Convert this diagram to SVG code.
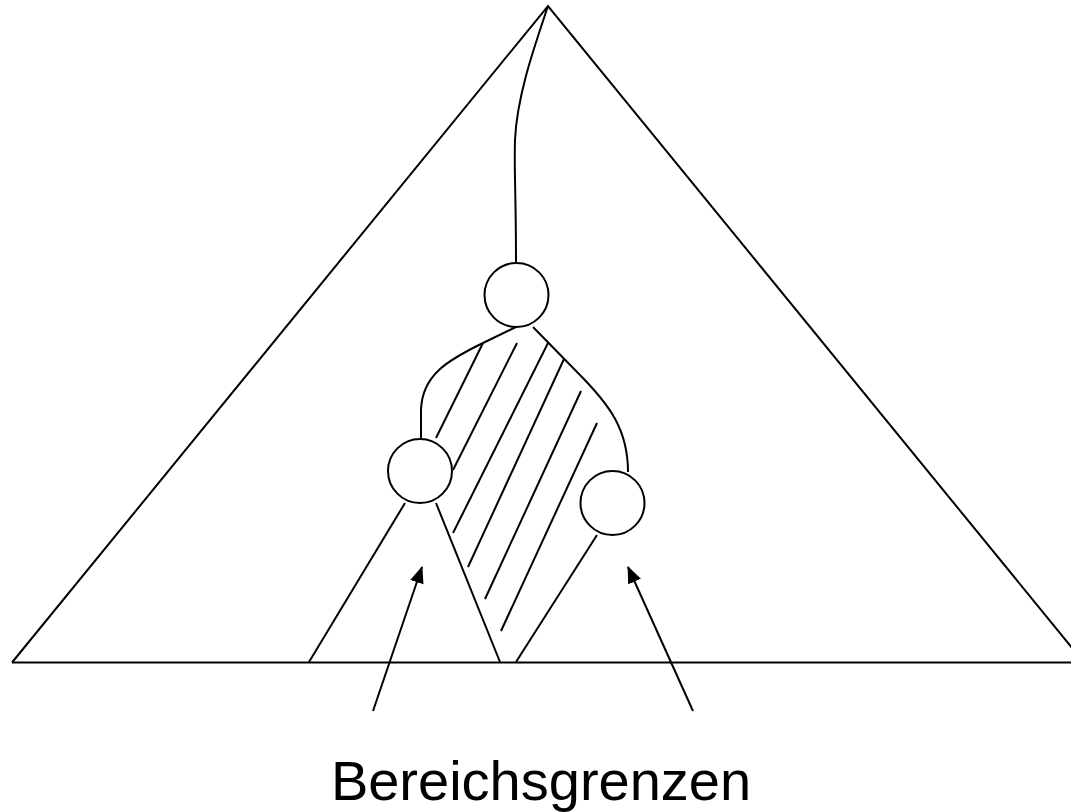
<svg xmlns="http://www.w3.org/2000/svg" width="1071" height="812" viewBox="0 0 1071 812">
<style>
.ln{fill:none;stroke:#000;stroke-width:2;stroke-linecap:butt;stroke-linejoin:miter}
.nd{fill:#fff;stroke:#000;stroke-width:2}
.lbl{font-family:"Liberation Sans",Arial,sans-serif;font-size:56px;fill:#000}
</style>
<defs>
<marker id="ah" markerWidth="17" markerHeight="14" refX="16" refY="7" orient="auto" markerUnits="userSpaceOnUse">
<path d="M0,0 L17,7 L0,14 z" fill="#000"/>
</marker>
</defs>
<rect width="1071" height="812" fill="#fff"/>
<g id="tree">
<path class="ln" d="M12,662.5 L548,6 L1084,662.5"/>
<path class="ln" d="M12,662.5 L1071,662.5"/>
</g>
<g id="connectors">
<path class="ln" d="M548,6 C535,45 517,95 515,140 C514,170 516,190 516,263"/>
<path class="ln" d="M516,327 L483,343 C448,360 422,375 421,410 L421,439"/>
<path class="ln" d="M533,327 L578,373 C610,405 628,430 628,472"/>
<path class="ln" d="M405,503 L309,662"/>
<path class="ln" d="M436,503 L500,662"/>
<path class="ln" d="M597,535 L516,662"/>
<g id="hatch">
<path class="ln" d="M483,343 L436,438"/>
<path class="ln" d="M517,343 L453,470"/>
<path class="ln" d="M548,343 L453,533"/>
<path class="ln" d="M564,359 L468,567"/>
<path class="ln" d="M581,391 L485,599"/>
<path class="ln" d="M597,423 L501,631"/>
</g>
<path class="ln" d="M373,711 L422,567" marker-end="url(#ah)"/>
<path class="ln" d="M693,711 L628,567" marker-end="url(#ah)"/>
</g>
<g id="node-top"><circle class="nd" cx="516.5" cy="295" r="32"/></g>
<g id="node-left"><circle class="nd" cx="420" cy="471" r="32"/></g>
<g id="node-right"><circle class="nd" cx="612.5" cy="503" r="32"/></g>
<g id="label"><text class="lbl" x="541" y="800" text-anchor="middle">Bereichsgrenzen</text></g>
</svg>
